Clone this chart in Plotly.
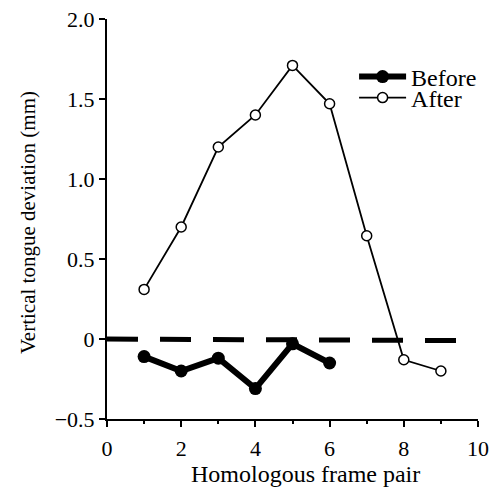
import plotly.graph_objects as go

frame_before = [1, 2, 3, 4, 5, 6]
before_vals = [-0.11, -0.20, -0.12, -0.31, -0.03, -0.15]
frame_after = [1, 2, 3, 4, 5, 6, 7, 8, 9]
after_vals = [0.31, 0.70, 1.20, 1.40, 1.71, 1.47, 0.645, -0.13, -0.20]
ref_x = [0, 9.45]
ref_y = [0.0, -0.01]

font = "Liberation Serif"

fig = go.Figure()
fig.add_trace(go.Scatter(x=ref_x, y=ref_y, mode="lines", showlegend=False,
                         line=dict(color="black", width=5, dash="31px,22px"),
                         cliponaxis=False, hoverinfo="skip"))
fig.add_trace(go.Scatter(x=frame_before, y=before_vals, mode="lines+markers", name="Before",
                         line=dict(color="black", width=6),
                         marker=dict(symbol="circle", size=13, color="black"),
                         cliponaxis=False, legend="legend"))
fig.add_trace(go.Scatter(x=frame_after, y=after_vals, mode="lines+markers", name="After",
                         line=dict(color="black", width=1.8),
                         marker=dict(symbol="circle", size=10, color="white",
                                     line=dict(color="black", width=1.5)),
                         cliponaxis=False, legend="legend2"))

leg = dict(xanchor="left", yanchor="middle", bgcolor="rgba(0,0,0,0)",
           font=dict(size=24), itemwidth=47, borderwidth=0)

fig.update_layout(
    width=492, height=487,
    margin=dict(l=107, r=14, t=19, b=68, autoexpand=False),
    paper_bgcolor="white", plot_bgcolor="white",
    font=dict(family=font, size=22, color="black"),
    showlegend=True,
    legend=dict(leg, x=0.666, y=0.855),
    legend2=dict(leg, x=0.666, y=0.8025),
    xaxis=dict(range=[0, 10], tickvals=[0, 2, 4, 6, 8, 10], automargin=False,
               showline=True, linecolor="black", linewidth=2,
               ticks="outside", ticklen=6, tickwidth=2, tickcolor="black",
               minor=dict(tickvals=[1, 3, 5, 7, 9], ticks="outside", ticklen=3,
                          tickwidth=2, tickcolor="black"),
               tickfont=dict(size=22), ticklabelstandoff=3,
               showgrid=False, zeroline=False),
    yaxis=dict(range=[-0.5, 2.0], tickvals=[-0.5, 0, 0.5, 1.0, 1.5, 2.0], automargin=False,
               ticktext=["\u22120.5", "0", "0.5", "1.0", "1.5", "2.0"],
               showline=True, linecolor="black", linewidth=2,
               ticks="outside", ticklen=6, tickwidth=2, tickcolor="black",
               tickfont=dict(size=22), ticklabelstandoff=0,
               showgrid=False, zeroline=False),
    annotations=[
        dict(text="Homologous frame pair", xref="paper", yref="paper",
             x=0.534, y=-0.1375, xanchor="center", yanchor="middle",
             showarrow=False, font=dict(size=24)),
        dict(text="Vertical tongue deviation (mm)", xref="paper", yref="paper",
             x=-0.213, y=0.4925, xanchor="center", yanchor="middle", textangle=-90,
             showarrow=False, font=dict(size=21)),
    ],
)

fig.write_html("out.html", post_script="document.body.style.margin='0px';",
               config={"displayModeBar": False})
